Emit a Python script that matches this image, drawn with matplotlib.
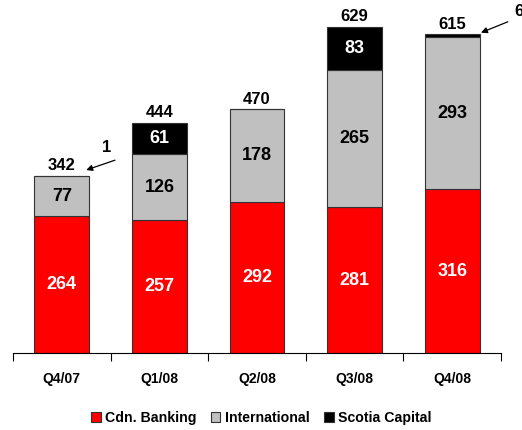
import matplotlib
matplotlib.use("Agg")
import matplotlib.pyplot as plt
import numpy as np

quarters = ["Q4/07", "Q1/08", "Q2/08", "Q3/08", "Q4/08"]
cdn_banking = [264, 257, 292, 281, 316]
international = [77, 126, 178, 265, 293]
scotia_capital = [1, 61, 0, 83, 6]
totals = [342, 444, 470, 629, 615]

plt.rcParams["font.family"] = ["Liberation Sans", "DejaVu Sans"]
plt.rcParams["font.weight"] = "bold"

fig = plt.figure(figsize=(5.22, 4.30), dpi=100)
ax = fig.add_axes([13 / 522, 77 / 430, 488 / 522, 353 / 430])

x = np.arange(len(quarters))
w = 0.56
red = np.array(cdn_banking)
gray = np.array(international)
black = np.array(scotia_capital)

ax.bar(x, red, w, color="#ff0000", edgecolor="#333333", linewidth=0.8, label="Cdn. Banking")
ax.bar(x, gray, w, bottom=red, color="#c0c0c0", edgecolor="#333333", linewidth=0.8, label="International")
ax.bar(x, black, w, bottom=red + gray, color="#000000", edgecolor="#333333", linewidth=0.8, label="Scotia Capital")

for i in range(len(quarters)):
    ax.text(x[i], red[i] / 2, str(red[i]), ha="center", va="center", color="white", fontsize=13, fontweight="bold")
    ax.text(x[i], red[i] + gray[i] / 2, str(gray[i]), ha="center", va="center", color="black", fontsize=13, fontweight="bold")
    if black[i] > 20:
        ax.text(x[i], red[i] + gray[i] + black[i] / 2, str(black[i]), ha="center", va="center", color="white", fontsize=13, fontweight="bold")
    ax.text(x[i], totals[i] + 5, str(totals[i]), ha="center", va="bottom", fontsize=12, fontweight="bold")

# small segments pointed out with arrows
ax.text(0.463, 397, str(scotia_capital[0]), ha="center", va="center", fontsize=12, fontweight="bold")
ax.annotate("", xy=(0.25, 353), xytext=(0.545, 372), annotation_clip=False,
            arrowprops=dict(arrowstyle="-|>", color="black", lw=0.9, shrinkA=0, shrinkB=0, mutation_scale=9))
# the "6" runs off the right edge, as in the original slide
ax.text(4.64, 658, str(scotia_capital[4]), ha="left", va="center", fontsize=12, fontweight="bold", clip_on=False)
ax.annotate("", xy=(4.295, 618), xytext=(4.57, 639), annotation_clip=False,
            arrowprops=dict(arrowstyle="-|>", color="black", lw=0.9, shrinkA=0, shrinkB=0, mutation_scale=9))

ax.set_xlim(-0.5, len(quarters) - 0.5)
ax.set_ylim(0, 681)
ax.set_xticks(np.arange(-0.5, len(quarters), 1.0))
ax.set_xticklabels([])
ax.set_xticks(x, minor=True)
ax.set_xticklabels(quarters, minor=True, fontsize=10, fontweight="bold")
ax.tick_params(axis="x", which="major", direction="out", length=6, color="black")
ax.tick_params(axis="x", which="minor", length=0, pad=14)
ax.set_yticks([])
for s in ["left", "right", "top"]:
    ax.spines[s].set_visible(False)
ax.spines["bottom"].set_color("black")

fig.legend(loc="center", bbox_to_anchor=(0.5, 1 - 418 / 430), ncol=3, frameon=False,
           fontsize=10.2, handlelength=0.7, handleheight=0.7, handletextpad=0.3, columnspacing=1.0)

fig.savefig("out.png", dpi=100)
